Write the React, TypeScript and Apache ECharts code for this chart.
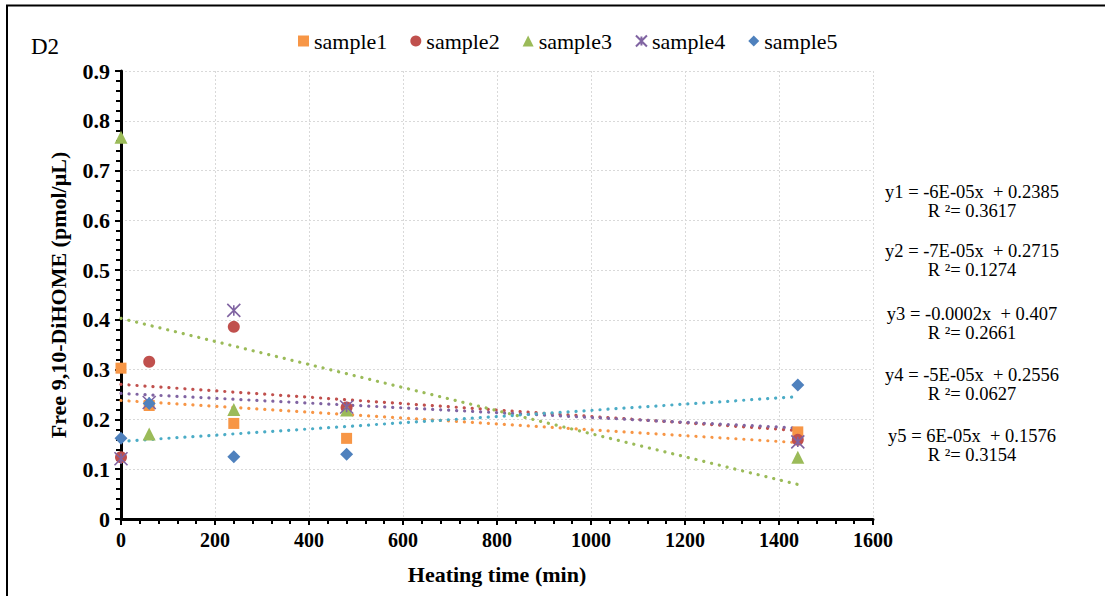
import React, { useEffect, useRef } from "react";
import * as echarts from "echarts";

const times = [0, 60, 240, 480, 1440];
const seriesNames = ["sample1", "sample2", "sample3", "sample4", "sample5"];
const sample1 = [0.303, 0.228, 0.192, 0.162, 0.175];
const sample2 = [0.124, 0.316, 0.386, 0.224, 0.159];
const sample3 = [0.767, 0.171, 0.220, 0.219, 0.124];
const sample4 = [0.121, 0.234, 0.419, 0.225, 0.155];
const sample5 = [0.162, 0.232, 0.125, 0.130, 0.269];
const equations = [
  ["y1 = -6E-05x  + 0.2385", "R ²= 0.3617"],
  ["y2 = -7E-05x  + 0.2715", "R ²= 0.1274"],
  ["y3 = -0.0002x  + 0.407", "R ²= 0.2661"],
  ["y4 = -5E-05x  + 0.2556", "R ²= 0.0627"],
  ["y5 = 6E-05x  + 0.1576", "R ²= 0.3154"],
];

const markerColors = ["#F79646", "#C0504D", "#9BBB59", "#8064A2", "#4F81BD"];
const trendColors = ["#F79646", "#C0504D", "#9BBB59", "#8064A2", "#4BACC6"];
const symbols = [
  "rect",
  "circle",
  "triangle",
  "path://M0,0L10,10M10,0L0,10M5,1L5,9",
  "diamond",
];
const symbolSizes = [11, 12, 13, 13, 13];

function linreg(xs: number[], ys: number[]) {
  const n = xs.length;
  const mx = xs.reduce((a, b) => a + b, 0) / n;
  const my = ys.reduce((a, b) => a + b, 0) / n;
  let sxy = 0;
  let sxx = 0;
  for (let i = 0; i < n; i++) {
    sxy += (xs[i] - mx) * (ys[i] - my);
    sxx += (xs[i] - mx) * (xs[i] - mx);
  }
  const m = sxy / sxx;
  return { m, b: my - m * mx };
}

const FONT = "'Liberation Serif', 'Times New Roman', serif";

export default function App() {
  const ref = useRef<HTMLDivElement>(null);
  useEffect(() => {
    if (!ref.current) return;
    const chart = echarts.init(ref.current, undefined, { renderer: "svg" });
    const all = [sample1, sample2, sample3, sample4, sample5];
    const series: any[] = [];
    all.forEach((ys, i) => {
      const { m, b } = linreg(times, ys);
      const x0 = times[0];
      const x1 = times[times.length - 1];
      series.push({
        name: "trend" + (i + 1),
        type: "line",
        data: [
          [x0, b + m * x0],
          [x1, b + m * x1],
        ],
        symbol: "none",
        silent: true,
        z: 1,
        lineStyle: {
          color: trendColors[i],
          width: 3.2,
          type: [0.1, 7.9],
          cap: "round",
        },
      });
    });
    all.forEach((ys, i) => {
      const isStar = i === 3;
      series.push({
        name: seriesNames[i],
        type: "scatter",
        data: times.map((t, j) => [t, ys[j]]),
        symbol: symbols[i],
        symbolSize: symbolSizes[i],
        z: 3,
        itemStyle: isStar
          ? { color: "rgba(0,0,0,0)", borderColor: markerColors[i], borderWidth: 1.6, opacity: 1 }
          : { color: markerColors[i], opacity: 1 },
      });
    });

    const graphics: any[] = [
      { type: "line", shape: { x1: 6, y1: 5.5, x2: 1105, y2: 5.5 }, style: { stroke: "#000", lineWidth: 2 } },
      { type: "line", shape: { x1: 7, y1: 5, x2: 7, y2: 596 }, style: { stroke: "#000", lineWidth: 2 } },
      {
        type: "text",
        x: 31,
        y: 46,
        style: { text: "D2", font: `23px ${FONT}`, fill: "#000", textVerticalAlign: "middle" },
      },
    ];
    const eqY = [192, 251, 314, 375, 436];
    equations.forEach((eq, i) => {
      graphics.push({
        type: "text",
        x: 972,
        y: eqY[i],
        style: { text: eq[0], font: `18.5px ${FONT}`, fill: "#000", textAlign: "center", textVerticalAlign: "middle" },
      });
      graphics.push({
        type: "text",
        x: 972,
        y: eqY[i] + 19,
        style: { text: eq[1], font: `18.5px ${FONT}`, fill: "#000", textAlign: "center", textVerticalAlign: "middle" },
      });
    });

    const axisLabel = { color: "#000", fontFamily: FONT, fontWeight: "bold", fontSize: 20 };
    const splitLine = { show: true, lineStyle: { color: "#d9d9d9", type: [2, 2], width: 1 } };

    chart.setOption({
      animation: false,
      backgroundColor: "#fff",
      grid: { left: 121, right: 232, top: 71, bottom: 77 },
      legend: {
        data: seriesNames,
        left: 293,
        top: 25,
        itemWidth: 11,
        itemHeight: 11,
        itemGap: 23,
        textStyle: { color: "#000", fontFamily: FONT, fontSize: 22 },
      },
      xAxis: {
        type: "value",
        min: 0,
        max: 1600,
        interval: 200,
        name: "Heating time (min)",
        nameLocation: "middle",
        nameGap: 44,
        nameTextStyle: { color: "#000", fontFamily: FONT, fontWeight: "bold", fontSize: 22 },
        axisLine: { show: true, lineStyle: { color: "#000", width: 3 } },
        axisTick: { show: true, inside: false, length: 6, lineStyle: { color: "#000", width: 2 } },
        minorTick: { show: true, splitNumber: 5, length: 5, lineStyle: { color: "#000", width: 2 } },
        axisLabel: { ...axisLabel, margin: 11, formatter: (v: number) => String(v) },
        splitLine,
      },
      yAxis: {
        type: "value",
        min: 0,
        max: 0.9,
        interval: 0.1,
        name: "Free 9,10-DiHOME (pmol/μL)",
        nameLocation: "middle",
        nameGap: 52,
        nameTextStyle: { color: "#000", fontFamily: FONT, fontWeight: "bold", fontSize: 22 },
        axisLine: { show: true, lineStyle: { color: "#000", width: 3 } },
        axisTick: { show: true, inside: false, length: 6, lineStyle: { color: "#000", width: 2 } },
        minorTick: { show: true, splitNumber: 5, length: 5, lineStyle: { color: "#000", width: 2 } },
        axisLabel: {
          ...axisLabel,
          fontSize: 22,
          margin: 11,
          formatter: (v: number) => (v === 0 ? "0" : v.toFixed(1)),
        },
        splitLine,
      },
      graphic: graphics,
      series,
    });
    return () => chart.dispose();
  }, []);
  return (
    <div
      ref={ref}
      style={{ position: "fixed", left: 0, top: 0, width: 1105, height: 596, background: "#fff" }}
    />
  );
}
